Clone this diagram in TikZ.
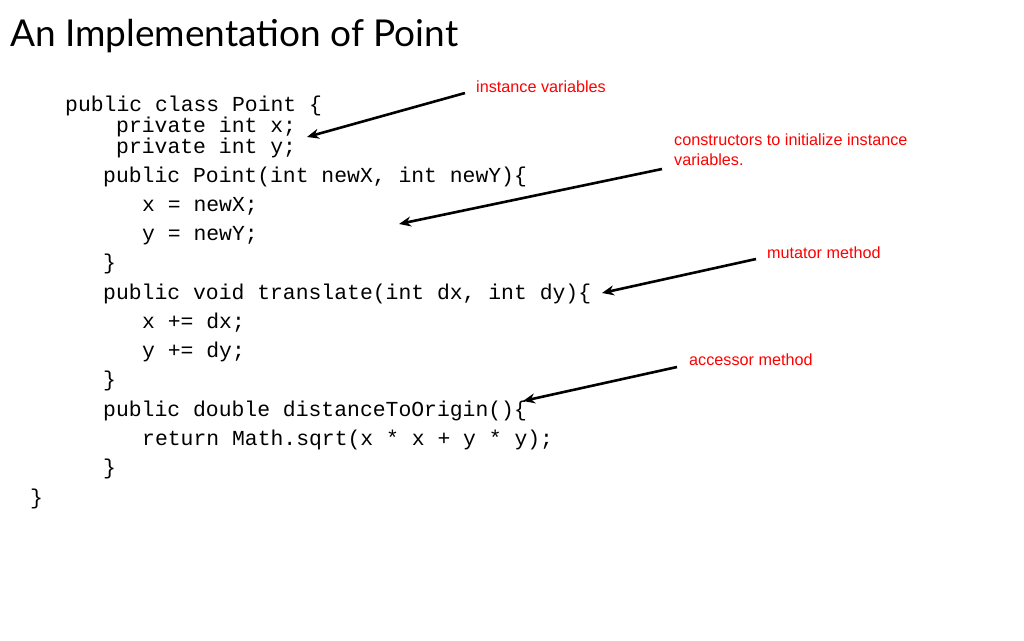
\documentclass[tikz,border=0pt]{standalone}
\usepackage{fontspec}
\setmainfont{Lato}
\setmonofont{Liberation Mono}
\newfontfamily\labelfont{Liberation Sans}
\usetikzlibrary{arrows.meta}
\begin{document}
\begin{tikzpicture}[x=1pt,y=-1pt,
    code/.style ={anchor=west, inner sep=0pt, font=\fontsize{21.4}{21}\ttfamily},
    remark/.style ={anchor=west, inner sep=0pt, text=red, align=left, font=\fontsize{16.2}{20}\labelfont},
    pointer/.style ={line width=2.6pt, -{Stealth[length=12pt,width=10pt]}}]
   \useasboundingbox (0,0) rectangle (1024,640);
   \node[anchor=west, inner sep=0pt, font=\fontsize{37}{37}\selectfont] (title) at (10,36) {An Implementat{}ion of Point};

   \node[code] (l1)  at (65,106)  {public class Point \{};
   \node[code] (l2)  at (116,127) {private int x;};
   \node[code] (l3)  at (116,148) {private int y;};
   \node[code] (l4)  at (103,177) {public Point(int newX, int newY)\{};
   \node[code] (l5)  at (142,206) {x = newX;};
   \node[code] (l6)  at (142,236) {y = newY;};
   \node[code] (l7)  at (103,264) {\}};
   \node[code] (l8)  at (103,294) {public void translate(int dx, int dy)\{};
   \node[code] (l9)  at (142,323) {x += dx;};
   \node[code] (l10) at (142,352) {y += dy;};
   \node[code] (l11) at (103,381) {\}};
   \node[code] (l12) at (103,411) {public double distanceToOrigin()\{};
   \node[code] (l13) at (142,440) {return Math.sqrt(x * x + y * y);};
   \node[code] (l14) at (103,469) {\}};
   \node[code] (l15) at (30,499)  {\}};

   \node[remark] (vars)  at (476,87)  {instance variables};
   \node[remark] (cons)  at (674,150) {constructors to initialize instance\\variables.};
   \node[remark] (mut)   at (767,253) {mutator method};
   \node[remark] (acc)   at (689,360) {accessor method};

   \coordinate (vs) at (465,93);
   \coordinate (ve) at (307,137);
   \coordinate (cs) at (662,169);
   \coordinate (ce) at (399,224);
   \coordinate (ms) at (756,259);
   \coordinate (me) at (602,293);
   \coordinate (as) at (677,367);
   \coordinate (ae) at (523,401);

   \draw[pointer] (vs) to (ve);
   \draw[pointer] (cs) to (ce);
   \draw[pointer] (ms) to (me);
   \draw[pointer] (as) to (ae);
\end{tikzpicture}
\end{document}
